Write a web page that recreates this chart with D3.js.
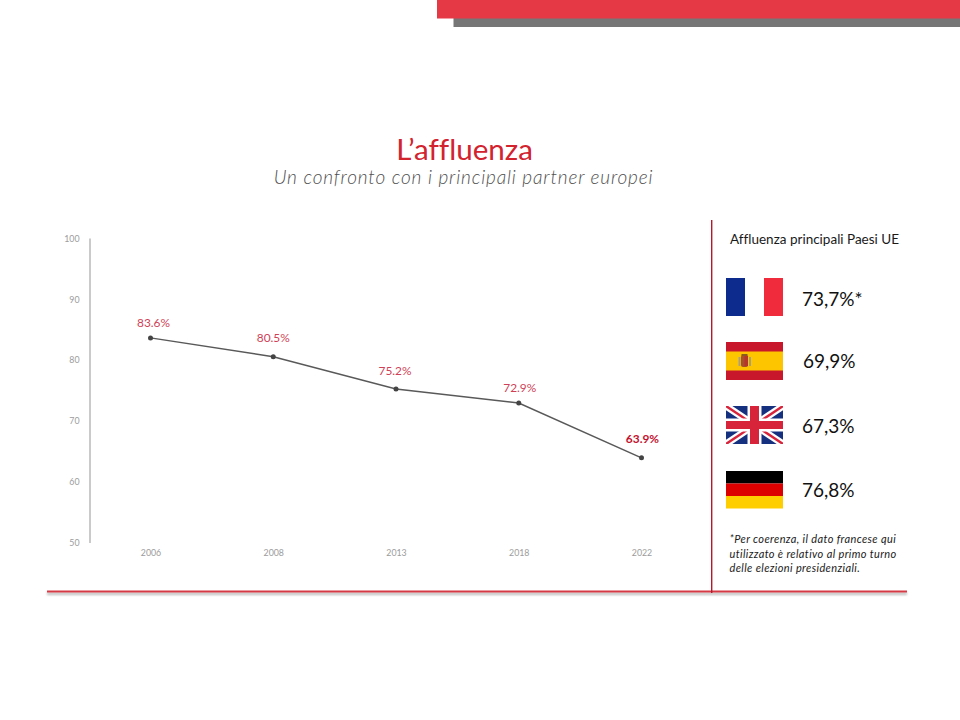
<!DOCTYPE html>
<html><head><meta charset="utf-8">
<script src="https://cdn.jsdelivr.net/npm/d3@7/dist/d3.min.js"></script>
<style>html,body{margin:0;padding:0;background:#fff}svg{display:block}text{font-family:Lato,"Open Sans",sans-serif;font-variant-ligatures:none}</style>
</head><body><div id="c"></div>
<script>
const years = ["2006","2008","2013","2018","2022"];
const turnout = [83.6,80.5,75.2,72.9,63.9];
const yTicks = [50,60,70,80,90,100];
const countries = ["Francia","Spagna","Regno Unito","Germania"];
const countryValues = ["73,7%*","69,9%","67,3%","76,8%"];
const noteLines = ["*Per coerenza, il dato francese qui","utilizzato è relativo al primo turno","delle elezioni presidenziali."];

const svg = d3.select("#c").append("svg").attr("width",960).attr("height",720);
const defs = svg.append("defs");
const blur = defs.append("filter").attr("id","sh").attr("x","-5%").attr("y","-200%").attr("width","110%").attr("height","500%");
blur.append("feGaussianBlur").attr("stdDeviation",1.2);

// top banner
svg.append("rect").attr("x",453.5).attr("y",18).attr("width",507).attr("height",9).attr("fill","#767676");
svg.append("rect").attr("x",437).attr("y",0).attr("width",523).attr("height",18.5).attr("fill","#e63946");

// title
svg.append("text").attr("x",464.5).attr("y",160).attr("text-anchor","middle").attr("font-size",29.6).attr("fill","#d2232f").text("L’affluenza");
svg.append("text").attr("x",463.5).attr("y",184).attr("text-anchor","middle").attr("font-size",19).attr("font-style","italic").attr("font-weight",300).attr("letter-spacing",0.85).attr("fill","#4f4f4f").text("Un confronto con i principali partner europei");

// scales
const x = d3.scalePoint().domain(years).range([150.5,641.5]);
const y = d3.scaleLinear().domain([50,100]).range([542.5,238]);

// axes
const gy = svg.append("g").attr("transform","translate(89.5,0)")
  .call(d3.axisLeft(y).tickValues(yTicks).tickSize(0).tickPadding(10));
gy.select(".domain").attr("stroke","#b4b4b4").attr("stroke-width",1.4);
gy.selectAll("text").attr("font-size",8.8).attr("fill","#9c9c9c").attr("font-family","Lato").attr("dy","0.36em");
const gx = svg.append("g").attr("transform","translate(0,542.5)")
  .call(d3.axisBottom(x).tickSize(0).tickPadding(7));
gx.select(".domain").remove();
gx.selectAll("text").attr("font-size",8.8).attr("fill","#9c9c9c").attr("font-family","Lato");

// line
const line = d3.line().x((d,i)=>x(years[i])).y(d=>y(d));
svg.append("path").datum(turnout).attr("d",line).attr("fill","none").attr("stroke","#595959").attr("stroke-width",1.5);
svg.selectAll("circle.pt").data(turnout).join("circle").attr("class","pt")
  .attr("cx",(d,i)=>x(years[i])).attr("cy",d=>y(d)).attr("r",2.5).attr("fill","#444");
const labelDx=[3,0,-1,1,1];
const labelY=[-11,-14.5,-14.5,-11.5,-14.5];
svg.selectAll("text.lb").data(turnout).join("text").attr("class","lb")
  .attr("x",(d,i)=>x(years[i])+labelDx[i]).attr("y",(d,i)=>y(d)+labelY[i])
  .attr("text-anchor","middle").attr("font-size",11.9)
  .attr("font-weight",(d,i)=>i===4?700:400)
  .attr("fill",(d,i)=>i===4?"#c4122f":"#cf3f57")
  .text(d=>d.toFixed(1)+"%");

// frame
svg.append("rect").attr("x",47).attr("y",592.5).attr("width",860).attr("height",2.5).attr("fill","#888").attr("opacity",0.55).attr("filter","url(#sh)");
svg.append("rect").attr("x",47).attr("y",590.5).attr("width",860).attr("height",2).attr("fill","#d63a45");
svg.append("rect").attr("x",711).attr("y",220).attr("width",1.4).attr("height",373).attr("fill","#b5172c");

// right panel
svg.append("text").attr("x",814.5).attr("y",244).attr("text-anchor","middle").attr("font-size",13.5).attr("fill","#1a1a1a").text("Affluenza principali Paesi UE");

const flagTop = d3.scalePoint().domain(countries).range([278,471]);
const fx=726, fw=57, fh=38;
const valueX=[802,803,802,802], valueY=[306,368,433,497];
countries.forEach((c,i)=>{
  const g = svg.append("g").attr("transform",`translate(${fx},${Math.floor(flagTop(c))})`);
  if(i===0){
    g.append("rect").attr("width",19).attr("height",fh).attr("fill","#0c2b8c");
    g.append("rect").attr("x",38).attr("width",19).attr("height",fh).attr("fill","#ef2b3c");
  } else if(i===1){
    g.append("rect").attr("width",fw).attr("height",fh).attr("fill","#c8172a");
    g.append("rect").attr("y",9.5).attr("width",fw).attr("height",19).attr("fill","#fdc400");
    g.append("rect").attr("x",15).attr("y",13).attr("width",7).attr("height",12).attr("rx",2).attr("fill","#a8502a");
    g.append("rect").attr("x",18.5).attr("y",14).attr("width",3.5).attr("height",10).attr("fill","#b8352a");
    g.append("rect").attr("x",12.5).attr("y",15).attr("width",2).attr("height",9).attr("fill","#a9a07a");
    g.append("rect").attr("x",23).attr("y",15).attr("width",2).attr("height",9).attr("fill","#a9a07a");
    g.append("rect").attr("x",15.5).attr("y",12).attr("width",6).attr("height",2).attr("fill","#8a5a20");
  } else if(i===2){
    const id="uk";
    defs.append("clipPath").attr("id",id).append("rect").attr("width",fw).attr("height",fh);
    const u=g.append("g").attr("clip-path",`url(#${id})`);
    u.append("rect").attr("width",fw).attr("height",fh).attr("fill","#14307f");
    [[0,0,fw,fh],[fw,0,0,fh]].forEach(p=>{
      u.append("line").attr("x1",p[0]).attr("y1",p[1]).attr("x2",p[2]).attr("y2",p[3]).attr("stroke","#fff").attr("stroke-width",7);
      u.append("line").attr("x1",p[0]).attr("y1",p[1]).attr("x2",p[2]).attr("y2",p[3]).attr("stroke","#d8243a").attr("stroke-width",2.4);
    });
    u.append("rect").attr("x",21.5).attr("width",14).attr("height",fh).attr("fill","#fff");
    u.append("rect").attr("y",12.5).attr("width",fw).attr("height",13).attr("fill","#fff");
    u.append("rect").attr("x",24).attr("width",9).attr("height",fh).attr("fill","#d8243a");
    u.append("rect").attr("y",15).attr("width",fw).attr("height",8).attr("fill","#d8243a");
  } else {
    g.append("rect").attr("width",fw).attr("height",12.5).attr("fill","#000");
    g.append("rect").attr("y",12.5).attr("width",fw).attr("height",12.5).attr("fill","#dd0000");
    g.append("rect").attr("y",25).attr("width",fw).attr("height",12.5).attr("fill","#ffce00");
  }
  svg.append("text").attr("x",valueX[i]).attr("y",valueY[i]).attr("font-size",19).attr("fill","#111").text(countryValues[i]);
});

svg.selectAll("text.note").data(noteLines).join("text").attr("class","note")
  .attr("x",729.5).attr("y",(d,i)=>543+i*14.6).attr("font-size",11).attr("font-style","italic").attr("letter-spacing",0.38).attr("fill","#1a1a1a").text(d=>d);
</script></body></html>
